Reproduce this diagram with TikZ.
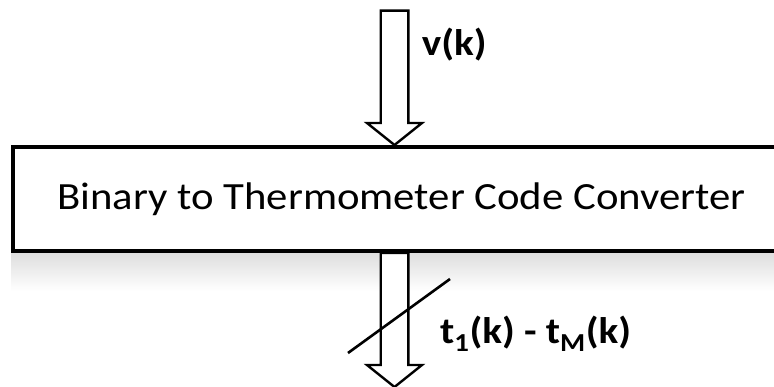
\documentclass[tikz,border=0pt]{standalone}
\usepackage{fontspec}
\setmainfont{Carlito}[FakeStretch=1.11]
\usetikzlibrary{calc,backgrounds}

\tikzset{
  blockline/.style={draw=black,line width=2.4pt,fill=white,line join=miter},
  siglabel/.style={font=\fontsize{37}{40}\selectfont\bfseries,inner sep=0pt,anchor=west},
}

% hollow block arrow pointing down, from #1 to #2
\newcommand\blockarrow[2]{%
  \draw[blockline] let \p1=(#1), \p2=(#2) in
    (\x1-13.8pt,\y1) -- (\x1-13.8pt,\y2+22pt) -- (\x1-27.5pt,\y2+22pt) -- (\x1,\y2)
    -- (\x1+27.5pt,\y2+22pt) -- (\x1+13.8pt,\y2+22pt) -- (\x1+13.8pt,\y1) -- cycle;}

\begin{document}
\begin{tikzpicture}[x=1pt,y=-1pt]
  \clip (0,0) rectangle (774,387);
  \node[draw,line width=4pt,minimum width=777pt,minimum height=104pt,inner sep=0pt,
        font=\fontsize{38.5}{42}\selectfont] (conv) at (401.5,199) {Binary to Thermometer Code Converter};
  \coordinate (vin) at (394.5,10.7);
  \coordinate (tout) at (394.5,387);
  \coordinate (s1) at (348,353);
  \coordinate (s2) at (450,279);
  \begin{scope}[on background layer]
    \fill[white] (0,0) rectangle (774,387);
    \shade[top color=black!13,bottom color=white] (conv.south west) rectangle ($(conv.south east)+(0,38)$);
    \blockarrow{vin}{vin |- conv.north}
    \blockarrow{tout |- conv.south}{tout}
  \end{scope}
  \draw[line width=2.6pt] (s1) -- (s2);
  \node[siglabel] (vlab) at (421.7,45) {v(k)};
  \node[siglabel] (tlab) at (440,334) {t\textsubscript{1}(k) - t\textsubscript{M}(k)};
\end{tikzpicture}
\end{document}
